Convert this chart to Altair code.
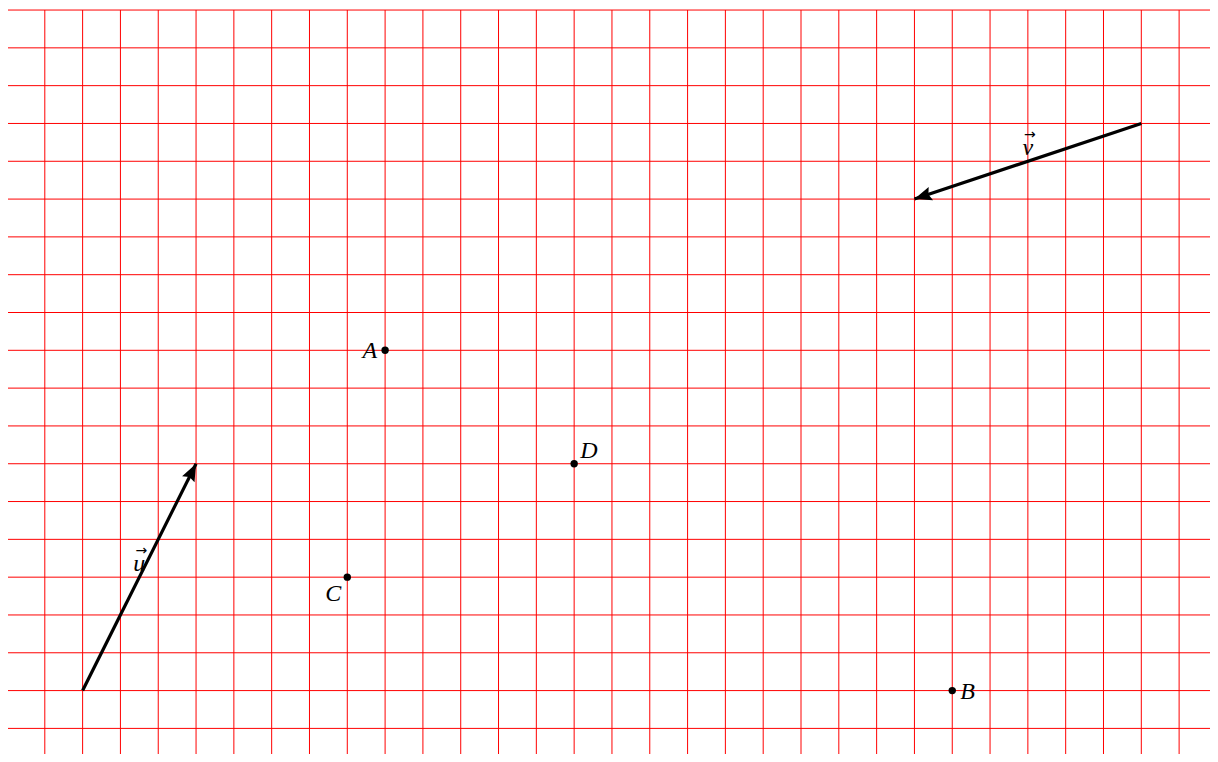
import altair as alt
import pandas as pd
import math

# Points (grid units, y upward)
point_names = ["A", "B", "C", "D"]
point_x = [10, 25, 9, 15]
point_y = [11, 2, 5, 8]

# Vectors
vec_names = ["u", "v"]
vec_x0 = [2, 30]
vec_y0 = [2, 17]
vec_x1 = [5, 24]
vec_y1 = [8, 15]

grid_x = list(range(0, 33))
grid_y = list(range(0, 21))

PX = 37.81
W = 1202
H = 744
x0_dom = 1 / PX
xdom = [x0_dom, x0_dom + W / PX]
ydom = [20 - H / PX, 20.001]

pts = pd.DataFrame({"name": point_names, "x": point_x, "y": point_y})
vec = pd.DataFrame({"name": vec_names, "x0": vec_x0, "y0": vec_y0,
                    "x1": vec_x1, "y1": vec_y1})
vec["mx"] = (vec["x0"] + vec["x1"]) / 2
vec["my"] = (vec["y0"] + vec["y1"]) / 2
vec["angle"] = [
    (math.degrees(math.atan2(x1 - x0, y1 - y0)) + 360) % 360
    for x0, y0, x1, y1 in zip(vec_x0, vec_y0, vec_x1, vec_y1)
]

xs = alt.Scale(domain=xdom, nice=False, zero=False)
ys = alt.Scale(domain=ydom, nice=False, zero=False)

def X(f):
    return alt.X(f, scale=xs, axis=None)

def Y(f):
    return alt.Y(f, scale=ys, axis=None)

vgrid = alt.Chart(pd.DataFrame({"gx": grid_x})).mark_rule(
    color="#ff0000", strokeWidth=1).encode(x=X("gx:Q"))
hgrid = alt.Chart(pd.DataFrame({"gy": grid_y})).mark_rule(
    color="#ff0000", strokeWidth=1).encode(y=Y("gy:Q"))

dots = alt.Chart(pts).mark_circle(size=55, color="black", opacity=1).encode(
    x=X("x:Q"), y=Y("y:Q"))

FONT = "Liberation Serif"
def label(name, **kw):
    return alt.Chart(pts[pts["name"] == name]).mark_text(
        font=FONT, fontStyle="italic", fontSize=24, color="black", **kw
    ).encode(x=X("x:Q"), y=Y("y:Q"), text="name:N")

lab_A = label("A", align="right", baseline="middle", dx=-8, dy=1)
lab_B = label("B", align="left", baseline="middle", dx=8, dy=1)
lab_C = label("C", align="right", baseline="middle", dx=-6, dy=17)
lab_D = label("D", align="left", baseline="middle", dx=6, dy=-13)

lines = alt.Chart(vec).mark_rule(color="black", strokeWidth=3.2).encode(
    x=X("x0:Q"), y=Y("y0:Q"), x2="x1:Q", y2="y1:Q")

heads = alt.Chart(vec).mark_point(
    shape="M0,0 L-0.8,2 L0,1.7 L0.8,2 Z", size=300, filled=True,
    color="black", opacity=1, strokeWidth=0
).encode(x=X("x1:Q"), y=Y("y1:Q"),
         angle=alt.Angle("angle:Q", scale=None))

vlab = alt.Chart(vec).mark_text(
    font=FONT, fontStyle="italic", fontSize=24, color="black",
    baseline="middle", align="center", dy=-13
).encode(x=X("mx:Q"), y=Y("my:Q"), text="name:N")

varrow = alt.Chart(vec).mark_text(
    font="DejaVu Sans", fontSize=14, color="black",
    baseline="middle", align="center", dy=-26, dx=2
).encode(x=X("mx:Q"), y=Y("my:Q"), text=alt.value("→"))

chart = alt.layer(vgrid, hgrid, lines, heads, dots, lab_A, lab_B, lab_C, lab_D,
                  vlab, varrow).properties(
    width=W, height=H,
    padding={"left": 0, "top": 2, "right": 0, "bottom": 0},
    autosize=alt.AutoSizeParams(type="none"),
).configure_view(stroke=None)

chart.save("out.html", embed_options={"renderer": "svg", "actions": False})
